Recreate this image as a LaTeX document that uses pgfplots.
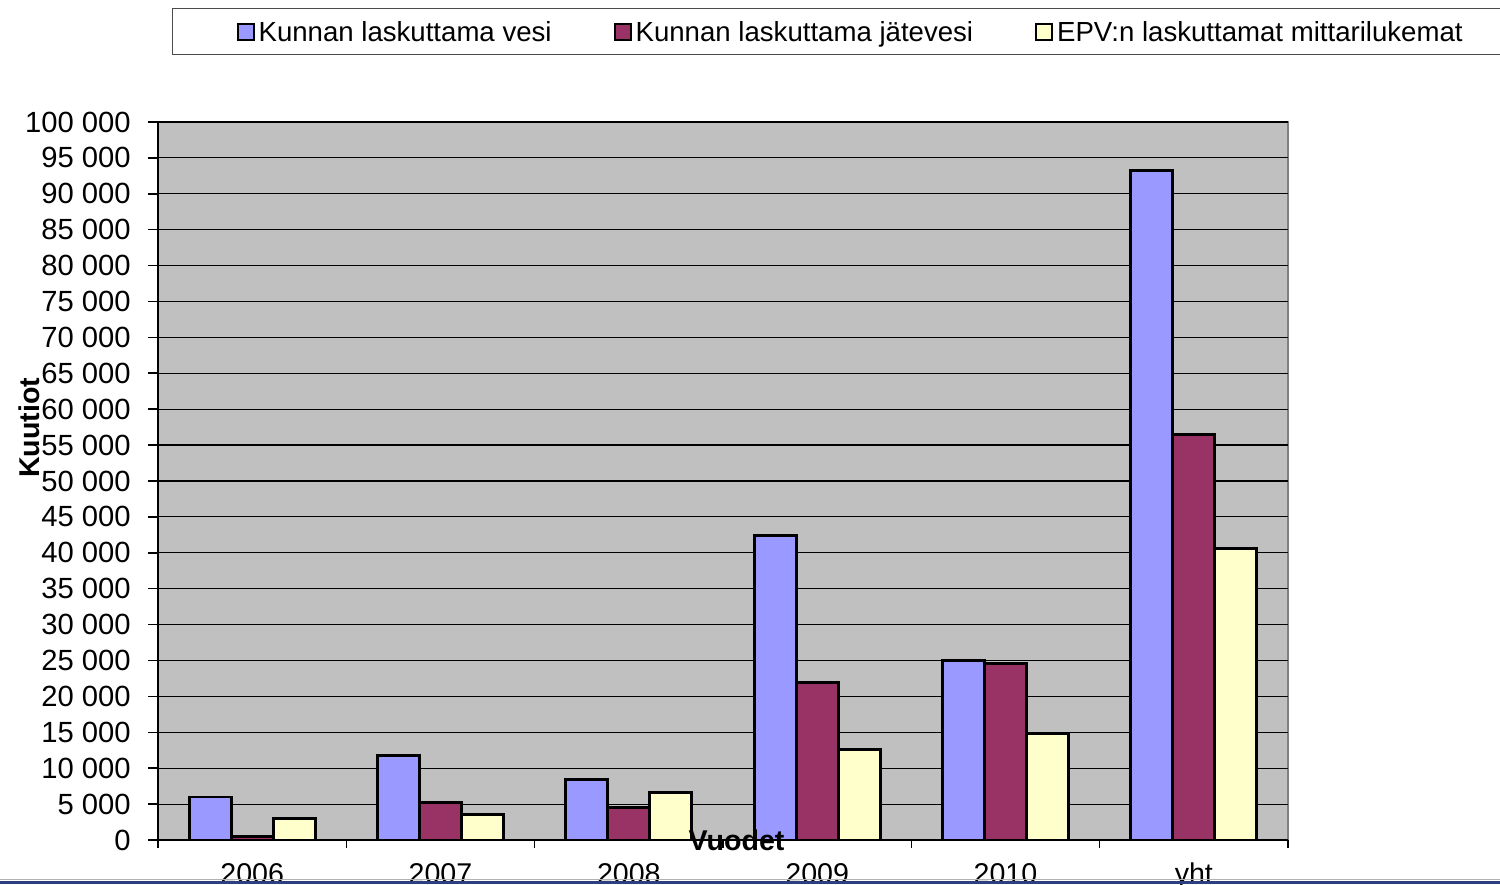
\documentclass[border=0pt]{standalone}
\usepackage{pgfplots}
\pgfplotsset{compat=1.18}
\usepackage{fontspec}
\setmainfont{Liberation Sans}
\definecolor{vesi}{HTML}{9999FF}
\definecolor{jate}{HTML}{993366}
\definecolor{epv}{HTML}{FFFFCC}
\definecolor{plotbg}{HTML}{C0C0C0}
\definecolor{navy}{RGB}{44,64,128}
\pgfplotstableread{
x vesi jate epv
0 6000 450 3000
1 11800 5200 3600
2 8400 4500 6600
3 42400 21900 12600
4 25000 24600 14800
5 93200 56500 40600
}\datatable
\begin{document}
\fontsize{14pt}{17pt}\selectfont
\begin{tikzpicture}
\useasboundingbox (-79pt,-22pt) rectangle (671pt,420pt);
\clip (-79pt,-22pt) rectangle (671pt,420pt);
\begin{axis}[
  at={(0pt,0pt)}, anchor=south west,
  scale only axis, width=565pt, height=359pt,
  font=\fontsize{14pt}{17pt}\selectfont,
  ybar=0pt, bar width=0.223,
  xmin=-0.5, xmax=5.5, ymin=0, ymax=100000,
  axis background/.style={fill=plotbg, draw=black!50, line width=1pt},
  axis x line*=bottom, axis y line*=left,
  axis line style={black, line width=1pt},
  xtick={0,...,5}, xticklabels={2006,2007,2008,2009,2010,yht},
  major x tick style={draw=none},
  minor xtick={-0.5,0.5,...,5.5},
  minor x tick style={black, line width=0.8pt},
  minor tick length=4pt,
  ytick={0,5000,...,100000},
  yticklabels={0,5 000,10 000,15 000,20 000,25 000,30 000,35 000,40 000,45 000,50 000,55 000,60 000,65 000,70 000,75 000,80 000,85 000,90 000,95 000,100 000},
  major y tick style={black, line width=0.8pt},
  major tick length=5pt,
  tick align=outside,
  scaled y ticks=false,
  yticklabel style={anchor=east, inner sep=0pt, xshift=-8.5pt, font=\fontsize{14.6pt}{17pt}\selectfont},
  xticklabel style={anchor=base, inner sep=0pt, yshift=-16.5pt, font=\fontsize{14.3pt}{17pt}\selectfont},
  ymajorgrids, major grid style={black, line width=0.6pt},
  xlabel={Vuodet}, ylabel={Kuutiot},
  xlabel style={at={(axis description cs:0.512,0)}, anchor=center, font=\fontsize{14.3pt}{17pt}\selectfont\bfseries},
  ylabel style={at={(axis description cs:-0.1142,0.574)}, anchor=center, font=\fontsize{14.3pt}{17pt}\selectfont\bfseries},
  legend columns=3,
  legend style={at={(rel axis cs:0.0124,1.1588)}, anchor=north west,
    draw=black!70, line width=0.6pt, fill=white,
    inner xsep=32pt, inner ysep=6.5pt,
    nodes={inner sep=0pt, text height=10pt, text depth=0pt, font=\fontsize{13.8pt}{17pt}\selectfont},
    /tikz/every odd column/.append style={column sep=2pt},
    /tikz/every even column/.append style={column sep=31pt}},
  legend image code/.code={\draw[#1, line width=1pt] (0pt,-4pt) rectangle (8pt,4pt);},
  every axis plot/.append style={draw=black, line width=1.4pt},
]
\addplot[fill=vesi] table[x=x, y=vesi] {\datatable};
\addplot[fill=jate] table[x=x, y=jate] {\datatable};
\addplot[fill=epv] table[x=x, y=epv] {\datatable};
\legend{Kunnan laskuttama vesi, Kunnan laskuttama jätevesi, EPV:n laskuttamat mittarilukemat}
\end{axis}
\draw[black!30, line width=0.5pt] (-79pt,-19.8pt) -- (671pt,-19.8pt);
\fill[navy] (-79pt,-22pt) rectangle (671pt,-20.3pt);
\end{tikzpicture}
\end{document}
